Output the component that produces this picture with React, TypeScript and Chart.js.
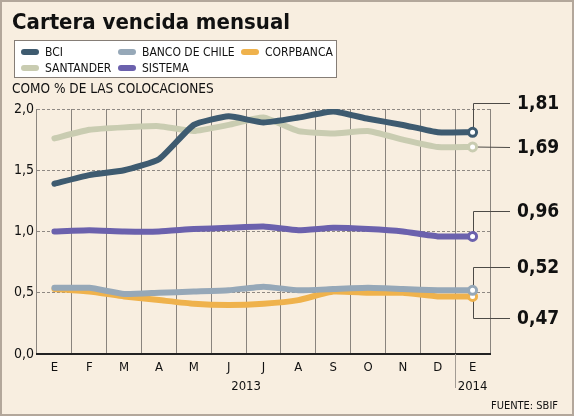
import React, { useEffect, useRef } from "react";
import { Chart, registerables } from "chart.js";

Chart.register(...registerables);

const FONT = '"DejaVu Sans Condensed", "DejaVu Sans", sans-serif';

const title = "Cartera vencida mensual";
const subtitle = "COMO % DE LAS COLOCACIONES";
const source = "FUENTE: SBIF";

const months = ["E", "F", "M", "A", "M", "J", "J", "A", "S", "O", "N", "D", "E"];
const years = [
  { label: "2013", from: 0, to: 11 },
  { label: "2014", from: 12, to: 12 },
];

const seriesNames = ["BCI", "BANCO DE CHILE", "CORPBANCA", "SANTANDER", "SISTEMA"];
const bci = [1.39, 1.46, 1.5, 1.59, 1.87, 1.94, 1.89, 1.93, 1.98, 1.92, 1.87, 1.81, 1.81];
const bancoChile = [0.54, 0.54, 0.49, 0.5, 0.51, 0.52, 0.55, 0.52, 0.53, 0.54, 0.53, 0.52, 0.52];
const corpbanca = [0.53, 0.51, 0.47, 0.44, 0.41, 0.4, 0.41, 0.44, 0.51, 0.5, 0.5, 0.47, 0.47];
const santander = [1.76, 1.83, 1.85, 1.86, 1.82, 1.87, 1.93, 1.82, 1.8, 1.82, 1.75, 1.69, 1.69];
const sistema = [1.0, 1.01, 1.0, 1.0, 1.02, 1.03, 1.04, 1.01, 1.03, 1.02, 1.0, 0.96, 0.96];

const colors = ["#3e5b70", "#96a8b8", "#efb24c", "#c9ccb1", "#6b61ad"];
// vertical offset (px) of each end-value callout from its point
const calloutOffsets = [-29, -23, 22, 0, -25];
const drawOrder = [1, 3, 4, 5, 2];

const fmt = (v: number, d: number) => v.toFixed(d).replace(".", ",");

const GRID = "#8a847e";

const calloutPlugin = {
  id: "callouts",
  beforeDatasetsDraw(chart: any) {
    const { ctx, chartArea } = chart;
    const xEnd = chartArea.right + 20;
    ctx.save();
    ctx.setLineDash([]);
    ctx.lineWidth = 1;
    ctx.strokeStyle = "#4d4a46";
    chart.data.datasets.forEach((ds: any, i: number) => {
      const meta = chart.getDatasetMeta(i);
      const pt = meta.data[meta.data.length - 1];
      if (!pt) return;
      const x = Math.round(pt.x) + 0.5;
      const y = pt.y;
      const off = calloutOffsets[i];
      ctx.beginPath();
      ctx.moveTo(x, y);
      const ly = Math.round(y + off) + 0.5;
      if (off !== 0) ctx.lineTo(x, ly);
      ctx.lineTo(xEnd, ly);
      ctx.stroke();
    });
    ctx.restore();
  },
  afterDatasetsDraw(chart: any) {
    const { ctx, chartArea } = chart;
    const xEnd = chartArea.right + 20;
    ctx.save();
    ctx.fillStyle = "#111";
    ctx.font = `bold 19px ${FONT}`;
    ctx.textBaseline = "middle";
    ctx.textAlign = "left";
    chart.data.datasets.forEach((ds: any, i: number) => {
      const meta = chart.getDatasetMeta(i);
      const pt = meta.data[meta.data.length - 1];
      if (!pt) return;
      const v = ds.data[ds.data.length - 1];
      ctx.fillText(fmt(v, 2), xEnd + 7, Math.round(pt.y + calloutOffsets[i]) + 1);
    });
    ctx.restore();
  },
  afterDraw(chart: any) {
    const { ctx, chartArea, scales } = chart;
    const xs = scales.x;
    ctx.save();
    ctx.setLineDash([]);
    // divider between years
    const xd = Math.round((xs.getPixelForValue(11) + xs.getPixelForValue(12)) / 2) + 0.5;
    ctx.strokeStyle = "#a39c94";
    ctx.lineWidth = 1;
    ctx.beginPath();
    ctx.moveTo(xd, chartArea.bottom);
    ctx.lineTo(xd, chartArea.bottom + 34);
    ctx.stroke();
    // year labels
    ctx.fillStyle = "#111";
    ctx.font = `13px ${FONT}`;
    ctx.textAlign = "center";
    ctx.textBaseline = "middle";
    years.forEach((y) => {
      const cx = (xs.getPixelForValue(y.from) + xs.getPixelForValue(y.to)) / 2;
      ctx.fillText(y.label, cx, chartArea.bottom + 33);
    });
    ctx.restore();
  },
};

export default function App() {
  const ref = useRef<HTMLCanvasElement>(null);
  useEffect(() => {
    document.body.style.margin = "0";
    const data = [bci, bancoChile, corpbanca, santander, sistema];
    const chart = new Chart(ref.current!, {
      type: "line",
      data: {
        labels: months,
        datasets: seriesNames.map((name, i) => ({
          label: name,
          data: data[i],
          borderColor: colors[i],
          borderWidth: 6,
          tension: 0.15,
          borderJoinStyle: "round",
          borderCapStyle: "round",
          pointRadius: data[i].map((_, j) => (j === data[i].length - 1 ? 4 : 0)),
          pointBorderWidth: 3,
          pointBackgroundColor: "#ffffff",
          pointBorderColor: colors[i],
          order: drawOrder[i],
        })),
      },
      options: {
        animation: false,
        responsive: false,
        devicePixelRatio: 1,
        layout: { padding: { top: 109, right: 84, left: 0, bottom: 0 } },
        plugins: { legend: { display: false }, tooltip: { enabled: false } },
        scales: {
          x: {
            offset: true,
            grid: { display: true, offset: true, color: GRID, lineWidth: 1, drawTicks: false },
            border: { display: true, color: "#222", width: 2 },
            ticks: {
              color: "#111",
              font: { family: FONT, size: 13 },
              padding: 6,
              maxRotation: 0,
              autoSkip: false,
            },
            afterFit: (s: any) => {
              s.height = 62;
            },
          },
          y: {
            min: 0,
            max: 2,
            grid: { color: "#8f8983", lineWidth: 1, drawTicks: false },
            border: { display: false, dash: [3, 2] },
            ticks: {
              stepSize: 0.5,
              color: "#111",
              font: { family: FONT, size: 14 },
              padding: 3,
              callback: (v: any) => fmt(Number(v), 1),
            },
            afterFit: (s: any) => {
              s.width = 37;
            },
          },
        },
      },
      plugins: [calloutPlugin],
    });
    return () => chart.destroy();
  }, []);

  const legendItems = [
    { i: 0, x: 21, y: 52 },
    { i: 1, x: 118, y: 52 },
    { i: 2, x: 241, y: 52 },
    { i: 3, x: 21, y: 68 },
    { i: 4, x: 118, y: 68 },
  ];

  return (
    <div
      style={{
        position: "relative",
        width: 574,
        height: 416,
        background: "#f8eee0",
        fontFamily: FONT,
        color: "#111",
        overflow: "hidden",
      }}
    >
      <canvas ref={ref} width={574} height={416} style={{ position: "absolute", left: 0, top: 0, width: 574, height: 416 }} />
      <div style={{ position: "absolute", left: 12, top: 10, fontSize: 22, fontWeight: "bold", lineHeight: "24px", whiteSpace: "nowrap" }}>
        {title}
      </div>
      <div
        style={{
          position: "absolute",
          left: 14,
          top: 40,
          width: 321,
          height: 36,
          background: "#ffffff",
          border: "1px solid #857d76",
        }}
      />
      {legendItems.map((it) => (
        <React.Fragment key={it.i}>
          <div
            style={{
              position: "absolute",
              left: it.x,
              top: it.y - 3,
              width: 18,
              height: 6,
              borderRadius: 3,
              background: colors[it.i],
            }}
          />
          <div
            style={{
              position: "absolute",
              left: it.x + 24,
              top: it.y - 8,
              fontSize: 12,
              lineHeight: "16px",
              whiteSpace: "nowrap",
            }}
          >
            {seriesNames[it.i]}
          </div>
        </React.Fragment>
      ))}
      <div style={{ position: "absolute", left: 12, top: 80, fontSize: 13.5, lineHeight: "16px", whiteSpace: "nowrap" }}>
        {subtitle}
      </div>
      <div style={{ position: "absolute", right: 16, top: 399, fontSize: 11, lineHeight: "14px", whiteSpace: "nowrap" }}>
        {source}
      </div>
      <div
        style={{
          position: "absolute",
          left: 0,
          top: 0,
          width: 574,
          height: 416,
          boxSizing: "border-box",
          border: "2px solid #b3a79b",
          pointerEvents: "none",
        }}
      />
    </div>
  );
}
